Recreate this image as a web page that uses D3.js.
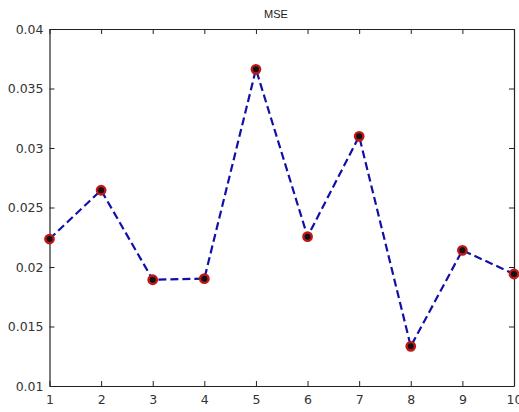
<!DOCTYPE html>
<html>
<head>
<meta charset="utf-8">
<script src="https://cdn.jsdelivr.net/npm/d3@7"></script>
<style>
  body { margin: 0; background: #fff; }
  text { font-family: "DejaVu Sans", "Liberation Sans", Arial, sans-serif; }
</style>
</head>
<body>
<div id="chart"></div>
<script>
// values
let xValues = [1, 2, 3, 4, 5, 6, 7, 8, 9, 10];
let mse = [0.02235, 0.02645, 0.01893, 0.01902, 0.03661, 0.02255, 0.03098, 0.01333, 0.0214, 0.01941];
let yTicks = [0.01, 0.015, 0.02, 0.025, 0.03, 0.035, 0.04];
let chartTitle = 'MSE';

let margin = { top: 29, left: 49.5, right: 5, bottom: 26 },
  width = 519 - margin.left - margin.right,
  height = 412 - margin.top - margin.bottom;

let svg = d3
  .select('#chart')
  .append('svg')
  .attr('width', 519)
  .attr('height', 412);

let xScale = d3.scaleLinear().domain([1, 10]).range([0, width]),
  yScale = d3.scaleLinear().domain([0.01, 0.04]).range([height, 0]);

let g = svg.append('g').attr('transform', 'translate(' + margin.left + ',' + margin.top + ')');

let tickLen = 5;

// bottom axis, ticks pointing in
let xAxis = g.append('g')
  .attr('transform', 'translate(0,' + height + ')')
  .call(d3.axisBottom(xScale).tickValues(xValues).tickSizeInner(-tickLen).tickSizeOuter(0).tickPadding(9));
// top axis, ticks only
let xTop = g.append('g')
  .call(d3.axisTop(xScale).tickValues(xValues).tickSizeInner(-tickLen).tickSizeOuter(0).tickFormat(''));
// left axis
let yAxis = g.append('g')
  .call(d3.axisLeft(yScale).tickValues(yTicks).tickSizeInner(-tickLen).tickSizeOuter(0).tickPadding(6)
    .tickFormat(function (d) { return d3.format('')(+d.toFixed(3)); }));
// right axis, ticks only
let yRight = g.append('g')
  .attr('transform', 'translate(' + width + ',0)')
  .call(d3.axisRight(yScale).tickValues(yTicks).tickSizeInner(-tickLen).tickSizeOuter(0).tickFormat(''));

[xAxis, xTop, yAxis, yRight].forEach(function (a) {
  a.attr('font-family', null).attr('font-size', null);
  a.select('.domain').attr('stroke', '#222').attr('stroke-width', 1.2);
  a.selectAll('.tick line').attr('stroke', '#222');
  a.selectAll('.tick text').attr('fill', '#333').style('fill', '#333').style('font-size', '12.5px');
});

let line = d3.line()
  .x(function (d, i) { return xScale(xValues[i]); })
  .y(function (d) { return yScale(d); });

g.append('path')
  .datum(mse)
  .attr('fill', 'none')
  .attr('stroke', '#1010a8')
  .attr('stroke-width', 2.2)
  .attr('stroke-dasharray', '8,4')
  .attr('d', line);

g.selectAll('.dot')
  .data(mse)
  .enter()
  .append('circle')
  .attr('class', 'dot')
  .attr('cx', function (d, i) { return xScale(xValues[i]); })
  .attr('cy', function (d) { return yScale(d); })
  .attr('r', 4.2)
  .attr('fill', '#111')
  .attr('stroke', '#c01818')
  .attr('stroke-width', 2.4);

svg.append('text')
  .attr('x', 276)
  .attr('y', 18)
  .attr('text-anchor', 'middle')
  .attr('fill', '#222')
  .style('font-family', '"Liberation Sans", Arial, sans-serif')
  .style('font-size', '11px')
  .text(chartTitle);
</script>
</body>
</html>
